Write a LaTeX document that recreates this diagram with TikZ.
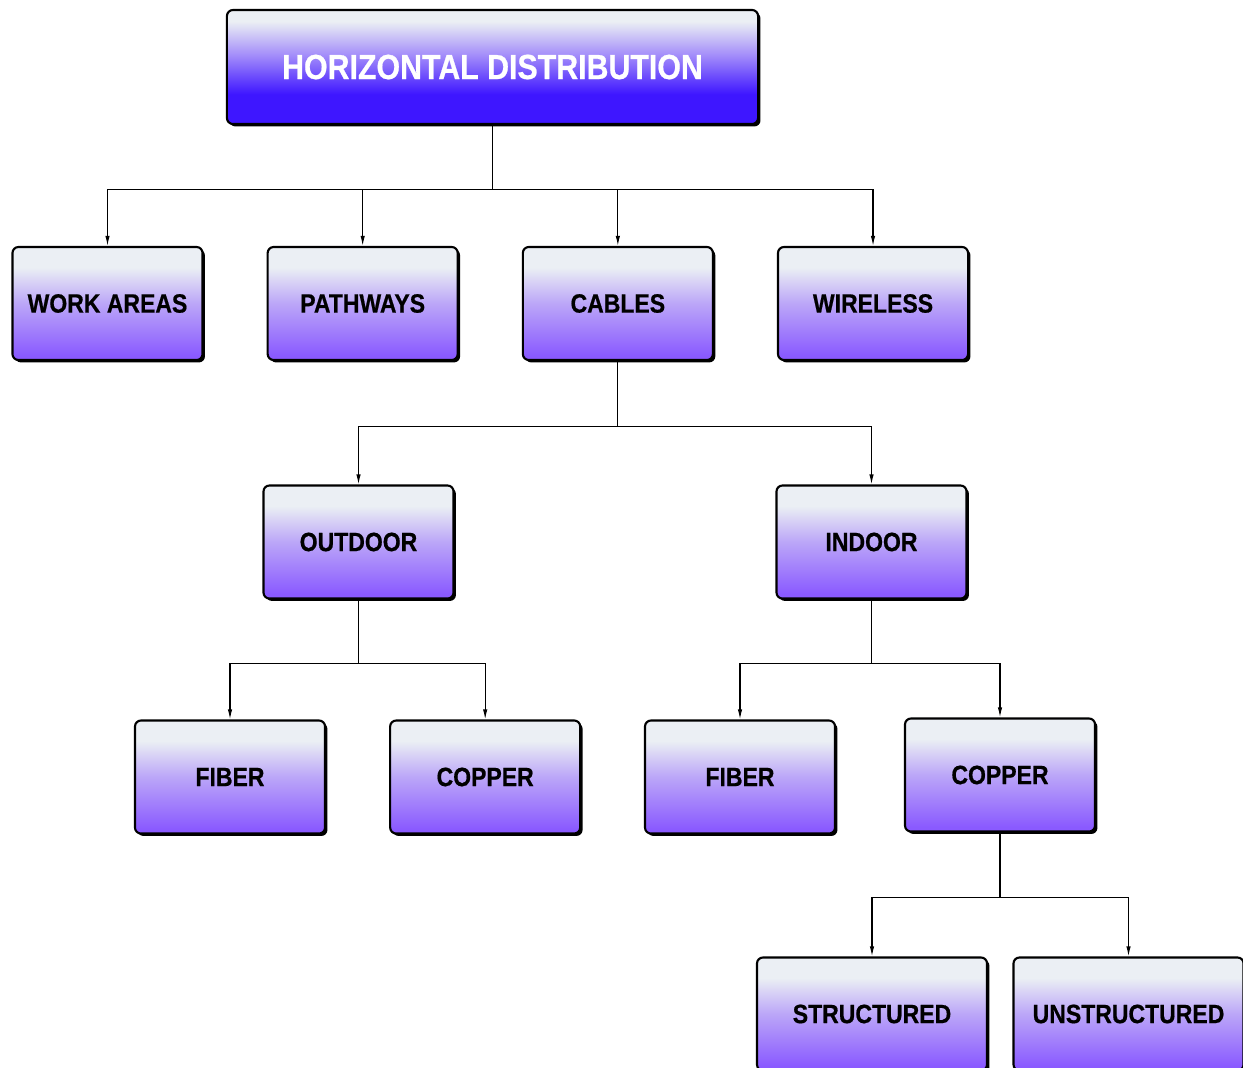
\documentclass[tikz,border=0pt]{standalone}
\usepackage{fontspec}
\setmainfont{Liberation Sans}[FakeStretch=0.87, BoldFeatures={FakeBold=0.6}]
\usepackage{xcolor}
\usepackage{tikz}
\usetikzlibrary{positioning,arrows.meta,shadows}

\definecolor{toplight}{HTML}{EBEFF4}
\definecolor{boxmid}{HTML}{BBA6F8}
\definecolor{boxlow}{HTML}{8A5AFF}
\definecolor{headmid}{HTML}{A28BFA}
\definecolor{headlow}{HTML}{3E16FF}

\pgfdeclareverticalshading{catshade}{100bp}{color(0bp)=(boxlow); color(27bp)=(boxlow);
    color(50bp)=(boxmid); color(66bp)=(toplight); color(100bp)=(toplight)}
\pgfdeclareverticalshading{headshade}{100bp}{color(0bp)=(headlow); color(38bp)=(headlow);
    color(55bp)=(headmid); color(70bp)=(toplight); color(100bp)=(toplight)}

\begin{document}
\begin{tikzpicture}[x=0.025cm, y=-0.025cm, node distance=1.575cm,
    catbox/.style={rectangle, draw=black, line width=1.5pt, rounded corners=1.5mm,
        shading=catshade,
        general shadow={fill=black, shadow xshift=0.6mm, shadow yshift=-0.6mm},
        minimum width=4.75cm, minimum height=2.825cm, inner sep=0pt,
        font=\bfseries\fontsize{18.8}{22}\selectfont, text=black},
    headbox/.style={catbox, shading=headshade,
        minimum width=13.275cm, minimum height=2.85cm,
        font=\bfseries\fontsize{24.8}{28}\selectfont, text=white},
    link/.style={-{Latex[length=2.5mm,width=1.1mm]}, line width=0.8pt}]

    \useasboundingbox (0,0) rectangle (1243,1067);

    \node[headbox] (hd) at (492.5,67) {\raisebox{-0.8mm}{HORIZONTAL DISTRIBUTION}};

    \node[catbox] (wa) at (107.5,303.5) {WORK AREAS};
    \node[catbox, right=of wa] (pw) {PATHWAYS};
    \node[catbox, right=of pw] (cb) {CABLES};
    \node[catbox, right=of cb] (wl) {WIRELESS};

    \node[catbox] (od) at (358.5,542) {OUTDOOR};
    \node[catbox] (ind) at (871.5,542) {INDOOR};

    \node[catbox] (ofb) at (230,777) {FIBER};
    \node[catbox, right=of ofb] (ocu) {COPPER};
    \node[catbox] (ifb) at (740,777) {FIBER};
    \node[catbox] (icu) at (1000,775) {COPPER};

    \node[catbox, minimum width=5.75cm] (st) at (872,1014) {STRUCTURED};
    \node[catbox, minimum width=5.75cm] (un) at (1128.5,1014) {UNSTRUCTURED};

    % tree connectors
    \draw[link] (hd.south) -- ++(0,64) -| (wa.north);
    \draw[link] (hd.south) -- ++(0,64) -| (pw.north);
    \draw[link] (hd.south) -- ++(0,64) -| (cb.north);
    \draw[link] (hd.south) -- ++(0,64) -| (wl.north);

    \draw[link] (cb.south) -- ++(0,65) -| (od.north);
    \draw[link] (cb.south) -- ++(0,65) -| (ind.north);

    \draw[link] (od.south) -- ++(0,64) -| (ofb.north);
    \draw[link] (od.south) -- ++(0,64) -| (ocu.north);
    \draw[link] (ind.south) -- ++(0,64) -| (ifb.north);
    \draw[link] (ind.south) -- ++(0,64) -| (icu.north);

    \draw[link] (icu.south) -- ++(0,65) -| (st.north);
    \draw[link] (icu.south) -- ++(0,65) -| (un.north);

\end{tikzpicture}
\end{document}
